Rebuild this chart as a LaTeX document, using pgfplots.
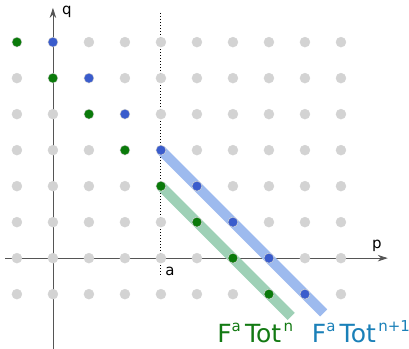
\documentclass[border=0pt]{standalone}
\usepackage{pgfplots}
\pgfplotsset{compat=1.18}
\usepackage{fontspec}
\setmainfont{DejaVu Sans}
\usetikzlibrary{arrows.meta}
\definecolor{dotgray}{HTML}{D3D3D3}
\definecolor{dgreen}{HTML}{0A7A0A}
\definecolor{dblue}{HTML}{3A5CCC}
\definecolor{lblue}{HTML}{9DBAEE}
\definecolor{lgreen}{HTML}{9ED0B6}
\definecolor{tblue}{HTML}{1A80B8}
\definecolor{tgreen}{HTML}{137A13}
\definecolor{axgray}{HTML}{555555}
\begin{document}
\begin{tikzpicture}
\begin{axis}[
  x=36pt, y=36pt,
  xmin=-1.47, xmax=9.89, ymin=-2.5, ymax=7.17,
  hide axis, clip=false,
]
% gray grid of dots
\addplot[only marks, mark=*, mark size=5pt, color=dotgray] coordinates {
(-1,-1)(0,-1)(1,-1)(2,-1)(3,-1)(4,-1)(5,-1)(6,-1)(7,-1)(8,-1)
(-1,0)(0,0)(1,0)(2,0)(3,0)(4,0)(5,0)(6,0)(7,0)(8,0)
(-1,1)(0,1)(1,1)(2,1)(3,1)(4,1)(5,1)(6,1)(7,1)(8,1)
(-1,2)(0,2)(1,2)(2,2)(3,2)(4,2)(5,2)(6,2)(7,2)(8,2)
(-1,3)(0,3)(1,3)(2,3)(3,3)(4,3)(5,3)(6,3)(7,3)(8,3)
(-1,4)(0,4)(1,4)(2,4)(3,4)(4,4)(5,4)(6,4)(7,4)(8,4)
(-1,5)(0,5)(1,5)(2,5)(3,5)(4,5)(5,5)(6,5)(7,5)(8,5)
(-1,6)(0,6)(1,6)(2,6)(3,6)(4,6)(5,6)(6,6)(7,6)(8,6)
};
% axes
\addplot[axgray, line width=0.8pt, -{Stealth[length=10pt,width=6.5pt]}] coordinates {(-1.33,0) (9.3,0)};
\addplot[axgray, line width=0.8pt, -{Stealth[length=10pt,width=6.5pt]}] coordinates {(0,-2.55) (0,6.95)};
% dotted line at a
\addplot[black, line width=1pt, dotted] coordinates {(3,6.8) (3,-0.47)};
% thick translucent lines
\addplot[lblue, line width=10pt] coordinates {(3,3) (7.52,-1.52)};
\addplot[lgreen, line width=10pt] coordinates {(3,2) (6.62,-1.62)};
% coloured dots
\addplot[only marks, mark=*, mark size=4.3pt, color=dgreen] coordinates {
(-1,6)(0,5)(1,4)(2,3)(3,2)(4,1)(5,0)(6,-1)};
\addplot[only marks, mark=*, mark size=4.3pt, color=dblue] coordinates {
(0,6)(1,5)(2,4)(3,3)(4,2)(5,1)(6,0)(7,-1)};
% labels
\node[anchor=center, font=\fontsize{15}{15}\selectfont] at (axis cs:0.39,6.85) {q};
\node[anchor=center, font=\fontsize{15}{15}\selectfont] at (axis cs:9.0,0.33) {p};
\node[anchor=center, font=\fontsize{15}{15}\selectfont] at (axis cs:3.25,-0.38) {a};
\node[anchor=base west, inner sep=0pt, text=tgreen, font=\fontsize{25}{25}\selectfont] at (axis cs:4.56,-2.34)
  {F\raisebox{0.45em}{\fontsize{15}{15}\selectfont a}\,Tot\raisebox{0.45em}{\fontsize{15}{15}\selectfont\,n}};
\node[anchor=base west, inner sep=0pt, text=tblue, font=\fontsize{25}{25}\selectfont] at (axis cs:7.19,-2.34)
  {F\raisebox{0.45em}{\fontsize{15}{15}\selectfont a}\,Tot\raisebox{0.45em}{\fontsize{15}{15}\selectfont\,n+1}};
\coordinate (ll) at (rel axis cs:0,0);
\coordinate (ur) at (rel axis cs:1,1);
\end{axis}
\pgfresetboundingbox
\path[use as bounding box] (ll) rectangle (ur);
\end{tikzpicture}
\end{document}
